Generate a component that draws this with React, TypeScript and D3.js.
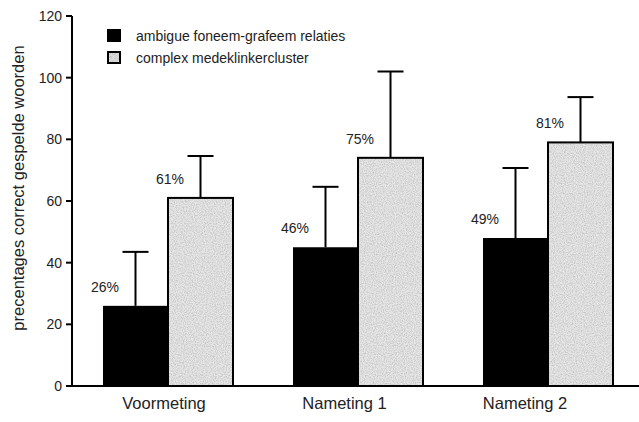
import React from "react";
import * as d3 from "d3";

const categories = ["Voormeting", "Nameting 1", "Nameting 2"];
const series = ["ambigue foneem-grafeem relaties", "complex medeklinkercluster"];
// bar heights as drawn
const ambigueValues = [26, 45, 48];
const complexValues = [61, 74, 79];
// top of error bars
const ambigueErrTop = [43.5, 64.6, 70.7];
const complexErrTop = [74.6, 102, 93.7];
// printed labels
const ambigueLabels = ["26%", "46%", "49%"];
const complexLabels = ["61%", "75%", "81%"];
const yTicks = [0, 20, 40, 60, 80, 100, 120];

const width = 639;
const height = 422;
const font = "'Liberation Sans', Arial, sans-serif";

export default function App() {
  const y = d3.scaleLinear().domain([0, 120]).range([386, 16]);
  const x0 = d3.scaleBand().domain(categories).range([73, 643]);
  const x1 = d3.scaleBand().domain(series).range([30, 160]);
  // category labels sit a bit left of the bar groups in the original
  const xLabel = d3.scalePoint().domain(categories).range([164, 525]);

  const rows = categories.flatMap((c, i) => [
    { cat: c, s: series[0], v: ambigueValues[i], err: ambigueErrTop[i], label: ambigueLabels[i] },
    { cat: c, s: series[1], v: complexValues[i], err: complexErrTop[i], label: complexLabels[i] },
  ]);

  return (
    <svg width={width} height={height} style={{ position: "absolute", left: 0, top: 0, background: "#fff" }}>
      <defs>
        <filter id="grain" x="0" y="0" width="100%" height="100%">
          <feTurbulence type="fractalNoise" baseFrequency="0.9" numOctaves="2" seed="3" result="n" />
          <feColorMatrix
            in="n"
            type="matrix"
            values="0 0 0 0 0.5  0 0 0 0 0.5  0 0 0 0 0.5  0 0 0 -1.8 1.15"
            result="g"
          />
          <feComposite in="g" in2="SourceGraphic" operator="in" result="gc" />
          <feMerge>
            <feMergeNode in="SourceGraphic" />
            <feMergeNode in="gc" />
          </feMerge>
        </filter>
      </defs>

      {/* bars */}
      {rows.map((d, i) => {
        const bx = x0(d.cat)! + x1(d.s)!;
        const bw = x1.bandwidth();
        const cx = bx + bw / 2;
        const dark = d.s === series[0];
        return (
          <g key={i}>
            <line x1={cx} x2={cx} y1={y(d.v)} y2={y(d.err)} stroke="#000" strokeWidth={2} />
            <line x1={cx - 13} x2={cx + 13} y1={y(d.err)} y2={y(d.err)} stroke="#000" strokeWidth={2} />
            {dark ? (
              <rect x={bx} y={y(d.v)} width={bw} height={y(0) - y(d.v)} fill="#000" />
            ) : (
              <rect
                x={bx}
                y={y(d.v)}
                width={bw}
                height={y(0) - y(d.v)}
                fill="#e6e6e6"
                filter="url(#grain)"
              />
            )}
            {!dark && (
              <rect x={bx} y={y(d.v)} width={bw} height={y(0) - y(d.v)} fill="none" stroke="#000" strokeWidth={2} />
            )}
            <text x={bx + 2} y={y(d.v) - 14} textAnchor="middle" fontFamily={font} fontSize={14} fill="#222">
              {d.label}
            </text>
          </g>
        );
      })}

      {/* axes */}
      <line x1={72} x2={72} y1={y(120)} y2={y(0)} stroke="#000" strokeWidth={2} />
      <line x1={66} x2={639} y1={y(0)} y2={y(0)} stroke="#000" strokeWidth={2} />
      {yTicks.map((t) => (
        <g key={t}>
          <line x1={66} x2={72} y1={y(t)} y2={y(t)} stroke="#000" strokeWidth={2} />
          <text x={62} y={y(t)} dy="0.35em" textAnchor="end" fontFamily={font} fontSize={14} fill="#222">
            {t}
          </text>
        </g>
      ))}
      {categories.map((c) => (
        <text key={c} x={xLabel(c)!} y={409} textAnchor="middle" fontFamily={font} fontSize={16.5} fill="#222">
          {c}
        </text>
      ))}
      <text
        transform="translate(24,188) rotate(-90)"
        textAnchor="middle"
        fontFamily={font}
        fontSize={16.5}
        fill="#222"
      >
        precentages correct gespelde woorden
      </text>

      {/* legend */}
      {series.map((s, i) => (
        <g key={s} transform={`translate(107,${29 + i * 22})`}>
          {i === 0 ? (
            <rect width={14} height={13} fill="#000" />
          ) : (
            <g>
              <rect x={1} y={1} width={12} height={11} fill="#ddd" filter="url(#grain)" />
              <rect x={1} y={1} width={12} height={11} fill="none" stroke="#000" strokeWidth={2} />
            </g>
          )}
          <text x={29} y={7} dy="0.35em" fontFamily={font} fontSize={14} fill="#222">
            {s}
          </text>
        </g>
      ))}
    </svg>
  );
}
